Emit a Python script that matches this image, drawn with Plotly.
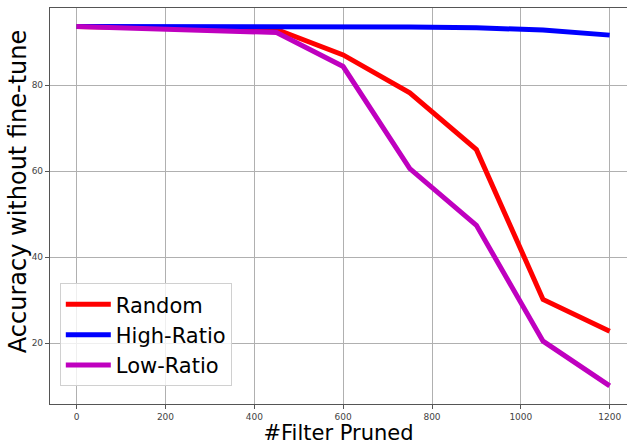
import plotly.graph_objects as go

filters_pruned = [0, 150, 300, 450, 600, 750, 900, 1050, 1200]
acc_random = [93.6, 93.4, 93.2, 92.9, 87.0, 78.2, 65.0, 30.2, 22.8]
acc_high_ratio = [93.6, 93.6, 93.6, 93.6, 93.6, 93.5, 93.3, 92.8, 91.6]
acc_low_ratio = [93.6, 93.2, 92.8, 92.2, 84.3, 60.6, 47.4, 20.5, 10.1]

series_names = ["Random", "High-Ratio", "Low-Ratio"]
series_colors = ["#ff0000", "#0000ff", "#bf00bf"]
x_ticks = [0, 200, 400, 600, 800, 1000, 1200]
y_ticks = [20, 40, 60, 80]
y_title = "Accuracy without fine-tune"
x_title = "#Filter Pruned"

fig = go.Figure()
for name, vals, col in zip(series_names, [acc_random, acc_high_ratio, acc_low_ratio], series_colors):
    fig.add_trace(go.Scatter(x=filters_pruned, y=vals, mode="lines", name=name,
                             line=dict(color=col, width=5)))

axis_common = dict(showgrid=True, gridcolor="#b0b0b0", gridwidth=0.8,
                   showline=True, linecolor="#555555", linewidth=1.2,
                   ticks="outside", ticklen=4, tickcolor="#555555",
                   tickfont=dict(family="DejaVu Sans", size=9, color="#444444"),
                   zeroline=False, automargin=False)

fig.update_layout(
    width=627, height=445,
    margin=dict(l=50, r=0, t=8, b=41, autoexpand=False),
    paper_bgcolor="white", plot_bgcolor="white",
    font=dict(family="DejaVu Sans", color="black"),
    xaxis=dict(range=[-60, 1239], tickvals=x_ticks, mirror=True,
               title=dict(text=x_title, font=dict(size=21), standoff=0),
               **axis_common),
    yaxis=dict(range=[5.9, 97.9], tickvals=y_ticks, **axis_common),
    legend=dict(x=0.017, y=0.045, xanchor="left", yanchor="bottom",
                bgcolor="rgba(255,255,255,0.8)", bordercolor="#d0d0d0", borderwidth=1,
                font=dict(size=21, family="DejaVu Sans"), itemwidth=45),
    showlegend=True,
)

fig.add_annotation(text=y_title, xref="paper", yref="paper",
                   x=-32 / 577, y=0.535, xanchor="center", yanchor="middle",
                   textangle=-90, showarrow=False,
                   font=dict(size=24, family="DejaVu Sans", color="black"))

fig.write_html("out.html", config={"displayModeBar": False},
               post_script="document.body.style.margin='0';document.body.style.overflow='hidden';")
